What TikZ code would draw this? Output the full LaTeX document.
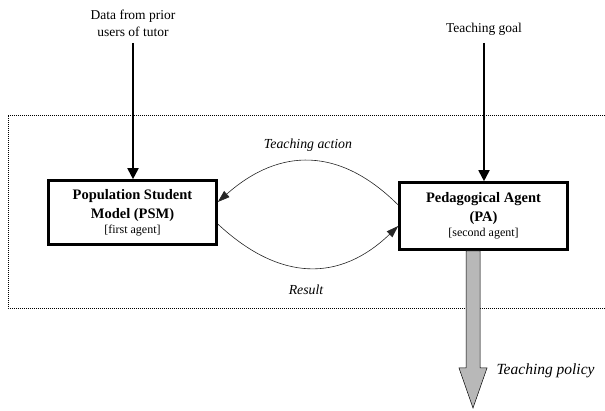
\documentclass[tikz,border=0pt]{standalone}
\usepackage{fontspec}
\setmainfont{Liberation Serif}
\usetikzlibrary{arrows.meta}
\begin{document}
\begin{tikzpicture}[x=1pt,y=-1pt,
  agentbox/.style={draw, line width=2.6pt, minimum width=168pt, minimum height=64pt, align=center, inner sep=0pt,
    font=\fontsize{14.5}{19}\selectfont\bfseries},
  tag/.style={font=\fontsize{12}{19}\selectfont\mdseries},
  feed/.style={line width=1.8pt, -{Triangle[width=11pt,length=11pt]}},
  flow/.style={line width=0.6pt, draw=black!85, -{Triangle[width=8pt,length=12pt]}},
  lbl/.style={font=\fontsize{13.5}{17}\selectfont, align=center},
  ilbl/.style={font=\fontsize{13.8}{15}\selectfont\itshape},
  region/.style={line width=0.6pt, dash pattern=on 1.2pt off 0.8pt}]
\useasboundingbox (0,0) rectangle (605,411);
% dotted region (right edge runs off the picture)
\draw[region] (605,115) -- (8,115) -- (8,308) -- (605,308);
% agents
\node[agentbox] (PSM) at (132.5,212.5)
  {Population Student\\ Model (PSM)\\[-4pt]{\fontsize{12}{19}\selectfont\mdseries [first agent]}};
\node[agentbox] (PA) at (483.5,216) [minimum height=67pt]
  {Pedagogical Agent\\ (PA)\\[-4pt]{\fontsize{12}{19}\selectfont\mdseries [second agent]}};
% inputs
\node[lbl] (data) at (133,23) {Data from prior\\users of tutor};
\node[lbl] (goal) at (484,29) {Teaching goal};
\coordinate (dataend) at (133,43);
\coordinate (goalend) at (484,43);
\draw[feed] (dataend) -- (PSM.north -| dataend);
\draw[feed] (goalend) -- (PA.north -| goalend);
% loop between agents
\coordinate (paout) at (PA.west |- 0,205);
\coordinate (psmin) at (PSM.east |- 0,202);
\coordinate (psmout) at (PSM.east |- 0,224);
\coordinate (pain) at (PA.west |- 0,226);
\draw[flow] (paout) .. controls (340,147) and (280,147) .. (psmin);
\draw[flow] (psmout) .. controls (280,282) and (340,282) .. (pain);
\node[ilbl] (ta) at (308,145) {Teaching action};
\node[ilbl] (res) at (306,290) {Result};
% output arrow
\draw[line width=0.5pt, fill=black!28]
  (466,251) -- (466,368) -- (459,368) -- (473,408) -- (487,368) -- (480,368) -- (480,251) -- cycle;
\coordinate (tip) at (473,408);
\node[font=\fontsize{15.5}{17}\selectfont\itshape, anchor=west] (pol) at (493,371) {Teaching policy};
\end{tikzpicture}
\end{document}
